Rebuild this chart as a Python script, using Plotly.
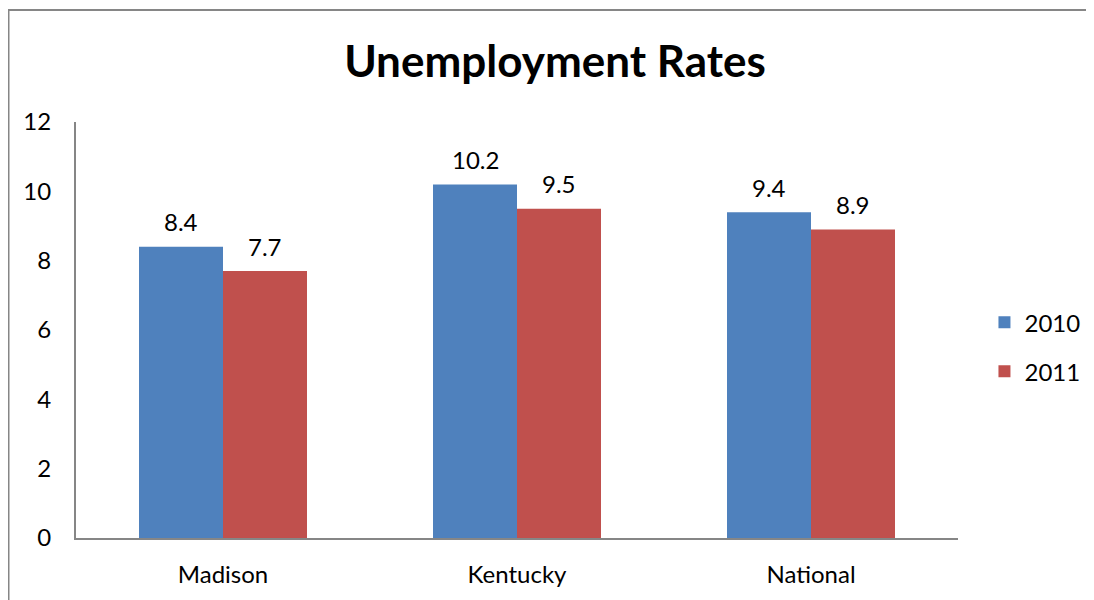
import plotly.graph_objects as go

categories = ["Madison", "Kentucky", "National"]
years = ["2010", "2011"]
rates_2010 = [8.4, 10.2, 9.4]
rates_2011 = [7.7, 9.5, 8.9]
y_ticks = [0, 2, 4, 6, 8, 10, 12]

colors = ["#4F81BD", "#C0504D"]
FONT = "Lato"
FS = 24

L, R, T, B = 68, 144, 114, 70
PW = 1094 - L - R
PH = 600 - T - B

fig = go.Figure()
for name, vals, col in zip(years, [rates_2010, rates_2011], colors):
    fig.add_trace(go.Bar(
        x=categories, y=vals, name=name, legendgroup=name,
        marker=dict(color=col, line=dict(width=0)),
    ))

# data labels above bars
for vals, xs in zip([rates_2010, rates_2011], [-42, 42]):
    for c, v in zip(categories, vals):
        fig.add_annotation(x=c, y=v, text=f"{v}", showarrow=False,
                           xshift=xs, yshift=25, yanchor="middle",
                           font=dict(family=FONT, size=FS, color="black"))

fig.update_layout(
    width=1094, height=600,
    margin=dict(l=L, r=R, t=T, b=B),
    paper_bgcolor="white", plot_bgcolor="white",
    barmode="group", bargap=0.4286, bargroupgap=0,
    title=dict(text="<b>Unemployment Rates</b>", x=0.5, xanchor="center",
               y=0.91, yanchor="middle",
               font=dict(family=FONT, size=44, color="black")),
    font=dict(family=FONT, size=FS, color="black"),
    legend=dict(x=1.03, xanchor="left", y=0.459, yanchor="middle",
                font=dict(family=FONT, size=FS), itemwidth=30,
                tracegroupgap=15),
    showlegend=True,
    xaxis=dict(showline=True, linecolor="#868686", linewidth=2,
               ticks="outside", ticklen=14, tickcolor="rgba(0,0,0,0)",
               showgrid=False, tickfont=dict(size=FS)),
    yaxis=dict(range=[0, 12], tickvals=y_ticks, showline=True,
               linecolor="#868686", linewidth=2, showgrid=False,
               zeroline=False, ticks="outside", ticklen=18,
               tickcolor="rgba(0,0,0,0)", tickfont=dict(size=FS)),
)

# outer chart border (left and top edges visible)
bx = (0 - L) / PW
by = 1 + (T - 2) / PH
fig.add_shape(type="line", xref="paper", yref="paper",
              x0=bx, x1=bx, y0=-0.3, y1=by,
              line=dict(color="#868686", width=3))
fig.add_shape(type="line", xref="paper", yref="paper",
              x0=bx, x1=1.3, y0=by, y1=by,
              line=dict(color="#868686", width=2))

fig.write_html("out.html")
